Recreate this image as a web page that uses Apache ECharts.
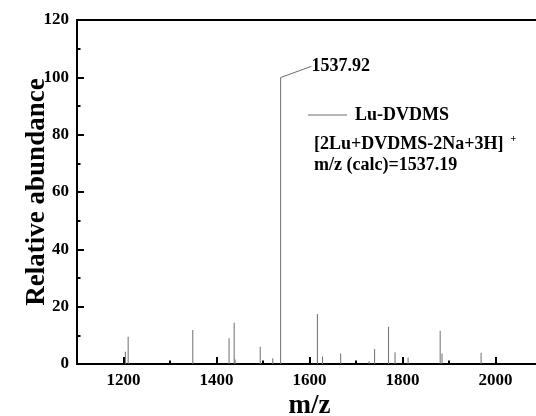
<!DOCTYPE html>
<html>
<head>
<meta charset="utf-8">
<script src="https://cdn.jsdelivr.net/npm/echarts@6/dist/echarts.min.js"></script>
<style>
  html, body { margin: 0; padding: 0; background: #fff; }
  #main { width: 536px; height: 416px; }
</style>
</head>
<body>
<div id="main"></div>
<script>
// peak positions (m/z) and relative abundance
var mz = [1204, 1210, 1349, 1427, 1438, 1440, 1494, 1521, 1537.92, 1617, 1628, 1667,
  1728, 1740, 1770, 1784, 1812, 1881, 1885, 1969];
var abundance = [4.3, 9.5, 11.9, 9.0, 14.4, 1.6, 6.0, 2.0, 100, 17.4, 2.6, 3.7,
  1.0, 5.2, 13.0, 4.1, 2.3, 11.6, 3.7, 3.9];
var majorTicks = [1200, 1400, 1600, 1800, 2000];
var minorTicks = [1300, 1500, 1700, 1900, 2100];

var serif = "'Liberation Serif', 'DejaVu Serif', serif";
var myChart = null;

window.onload = function () {
  myChart = echarts.init(document.getElementById("main"));
  drawSpectrum();
};

function drawSpectrum() {
  var top = Math.max.apply(null, abundance);
  var data = mz.map(function (x, i) {
    var item = { value: [x, abundance[i]] };
    if (abundance[i] === top) {
      item.label = {
        show: true,
        position: "top",
        formatter: function (p) {
          return p.value[0].toFixed(2);
        },
      };
      item.labelLine = { show: true };
    }
    return item;
  });

  myChart.setOption({
    backgroundColor: "#fff",
    animation: false,
    grid: {
      left: 77,
      right: -6,
      top: 20,
      bottom: 52,
      outerBoundsMode: "none",
      show: true,
      borderColor: "#000",
      borderWidth: 2,
    },
    title: {
      text: "[2Lu+DVDMS-2Na+3H]{sup|+}\nm/z (calc)=1537.19",
      left: 314,
      top: 134,
      padding: 0,
      textStyle: {
        fontFamily: serif,
        fontSize: 18,
        fontWeight: "bold",
        color: "#000",
        lineHeight: 21,
        rich: {
          sup: {
            fontFamily: serif,
            fontSize: 10,
            fontWeight: "bold",
            color: "#000",
            verticalAlign: "top",
            padding: [0, 0, 0, 7],
          },
        },
      },
    },
    legend: {
      data: [{ name: "Lu-DVDMS", icon: "rect" }],
      left: 308,
      top: 106,
      padding: 0,
      itemWidth: 39,
      itemHeight: 1,
      textStyle: {
        fontFamily: serif,
        fontSize: 18,
        fontWeight: "bold",
        color: "#000",
        padding: [0, 0, 0, 3],
      },
    },
    xAxis: [
      {
        type: "value",
        position: "bottom",
        min: 1100,
        max: 2100,
        name: "m/z",
        nameLocation: "middle",
        nameGap: 29,
        nameMoveOverlap: false,
        nameTextStyle: {
          fontFamily: serif,
          fontSize: 27,
          fontWeight: "bold",
          color: "#000",
        },
        axisLine: { onZero: false, lineStyle: { color: "#000", width: 2 } },
        axisTick: {
          inside: true,
          length: 7,
          customValues: majorTicks,
          lineStyle: { color: "#000", width: 2 },
        },
        axisLabel: {
          customValues: majorTicks,
          margin: 8,
          formatter: function (v) {
            return String(v);
          },
          fontFamily: serif,
          fontSize: 17,
          fontWeight: "bold",
          color: "#000",
        },
        splitLine: { show: false },
      },
      {
        // minor ticks at the odd hundreds
        type: "value",
        position: "bottom",
        min: 1100,
        max: 2100,
        axisLine: { show: false, onZero: false },
        axisTick: {
          inside: true,
          length: 3.5,
          customValues: minorTicks,
          lineStyle: { color: "#000", width: 2 },
        },
        axisLabel: { show: false },
        splitLine: { show: false },
      },
    ],
    yAxis: {
      type: "value",
      min: 0,
      max: 120,
      interval: 20,
      name: "Relative abundance",
      nameLocation: "middle",
      nameGap: 26,
      nameMoveOverlap: false,
      nameTextStyle: {
        fontFamily: serif,
        fontSize: 27,
        fontWeight: "bold",
        color: "#000",
      },
      axisLine: { show: true, onZero: false, lineStyle: { color: "#000", width: 2 } },
      axisTick: {
        show: true,
        inside: true,
        length: 7,
        lineStyle: { color: "#000", width: 2 },
      },
      minorTick: {
        show: true,
        splitNumber: 2,
        length: 3.5,
        lineStyle: { color: "#000", width: 2 },
      },
      axisLabel: {
        margin: 8,
        fontFamily: serif,
        fontSize: 17,
        fontWeight: "bold",
        color: "#000",
      },
      splitLine: { show: false },
    },
    series: [
      {
        name: "Lu-DVDMS",
        type: "bar",
        xAxisIndex: 0,
        barWidth: 1,
        itemStyle: { color: "#6e6e6e" },
        label: {
          show: false,
          fontFamily: serif,
          fontSize: 18,
          fontWeight: "bold",
          color: "#000",
        },
        labelLayout: { dx: 60, dy: 3 },
        labelLine: { lineStyle: { color: "#6e6e6e", width: 1 } },
        data: data,
      },
    ],
  });
}
</script>
</body>
</html>
